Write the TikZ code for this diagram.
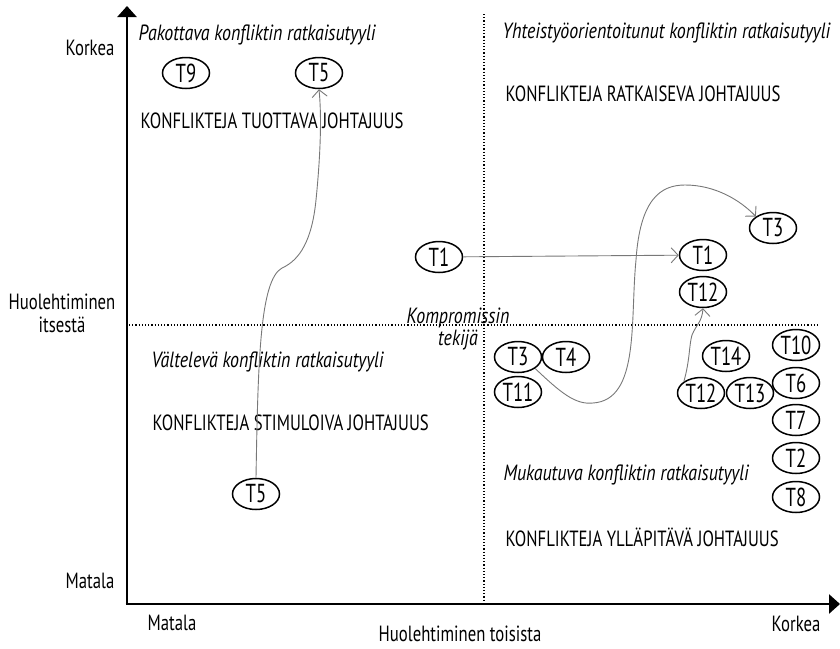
\documentclass[tikz,border=0pt]{standalone}
\usepackage{fontspec}
\setmainfont{PT Sans}[FakeStretch=0.76]
\newfontfamily\itfam{PT Sans}[FakeStretch=0.815]
\newfontfamily\tfam{PT Sans}[FakeStretch=0.72]
\usetikzlibrary{shapes.geometric,arrows.meta}
\definecolor{conn}{RGB}{120,120,120}
\begin{document}
\begin{tikzpicture}[x=1pt,y=-1pt,
  every node/.style={font=\fontsize{22}{26}\selectfont},
  tnode/.style={draw,ellipse,line width=1.5pt,minimum width=47pt,minimum height=31pt,inner sep=0pt,font=\fontsize{26}{28}\tfam},
  axis/.style={line width=2.6pt,-{Triangle[length=11pt,width=19pt]}},
  divider/.style={line width=1.2pt,dotted},
  conn/.style={draw=conn,line width=0.9pt,-{Straight Barb[length=7pt,width=15pt]}},
  qtitle/.style={anchor=west,font=\fontsize{22}{26}\itfam\itshape},
  qlead/.style={anchor=west},
  lab/.style={align=center}]
\useasboundingbox (0,0) rectangle (840,648);
% axes
\coordinate (o) at (127,604);
\coordinate (ytop) at (127,6);
\coordinate (xend) at (840,604);
\draw[axis] (o) -- (ytop);
\draw[axis] ([xshift=-1.3pt]o) -- (xend);
% dividers
\coordinate (vtop) at (484,14);
\coordinate (vbot) at (484,602);
\coordinate (hl) at (129,325);
\coordinate (hr) at (820,325);
\draw[divider] (vtop) -- (vbot);
\draw[divider] (hl) -- (hr);
% axis labels
\node[lab] (ykorkea) at (90,48) {Korkea};
\node[lab,align=center] (ymid) at (62,313) {Huolehtiminen\\[-3pt]itsestä};
\node[lab] (ymatala) at (90,581) {Matala};
\node[lab] (xmatala) at (172,623) {Matala};
\node[lab] (xmid) at (460,634) {Huolehtiminen toisista};
\node[lab] (xkorkea) at (796,624) {Korkea};
% quadrant texts
\node[qtitle] (q1t) at (135,35) {Pakottava konfliktin ratkaisutyyli};
\node[qlead] (q1l) at (137,121) {KONFLIKTEJA TUOTTAVA JOHTAJUUS};
\node[qtitle] (q2t) at (499,33) {Yhteistyöorientoitunut konfliktin ratkaisutyyli};
\node[qlead] (q2l) at (502,94) {KONFLIKTEJA RATKAISEVA JOHTAJUUS};
\node[qtitle] (q3t) at (148,362) {Vältelevä konfliktin ratkaisutyyli};
\node[qlead] (q3l) at (149,423) {KONFLIKTEJA STIMULOIVA JOHTAJUUS};
\node[qtitle] (q4t) at (500,475) {Mukautuva konfliktin ratkaisutyyli};
\node[qlead] (q4l) at (502,537) {KONFLIKTEJA YLLÄPITÄVÄ JOHTAJUUS};
\node[align=center,font=\fontsize{22}{24}\itfam\itshape] (komp) at (458,329) {Kompromissin\\[-2pt]tekijä};
% T nodes
\node[tnode] (t9) at (186,73) {T9};
\node[tnode] (t5a) at (319,73) {T5};
\node[tnode] (t5b) at (256,494) {T5};
\node[tnode] (t1a) at (439,257) {T1};
\node[tnode] (t1b) at (703,255) {T1};
\node[tnode] (t12a) at (703,292) {T12};
\node[tnode] (t3b) at (773,228) {T3};
\node[tnode] (t3a) at (518,357) {T3};
\node[tnode] (t4) at (566,357) {T4};
\node[tnode] (t11) at (518,392) {T11};
\node[tnode] (t14) at (726,356) {T14};
\node[tnode] (t12b) at (701,393) {T12};
\node[tnode] (t13) at (750,393) {T13};
\node[tnode] (t10) at (796,345) {T10};
\node[tnode] (t6) at (796,383) {T6};
\node[tnode] (t7) at (796,420) {T7};
\node[tnode] (t2) at (796,458) {T2};
\node[tnode] (t8) at (796,497) {T8};
% connectors
\draw[conn] (t1a) -- (t1b);
\draw[conn] (t5b.north) .. controls (258,360) and (260,280) .. (282,268)
  .. controls (300,260) and (312,240) .. (316,200)
  .. controls (320,160) and (322,120) .. (t5a.south);
\draw[conn] (t3a.south east) .. controls (560,392) and (575,405) .. (593,403)
  .. controls (640,400) and (630,320) .. (636,260)
  .. controls (640,200) and (660,185) .. (685,185)
  .. controls (715,185) and (740,200) .. (t3b.north west);
\draw[conn] (t12b.north west) .. controls (690,360) and (689,345) .. (692,335)
  .. controls (696,325) and (702,322) .. (t12a.south);
\end{tikzpicture}
\end{document}
